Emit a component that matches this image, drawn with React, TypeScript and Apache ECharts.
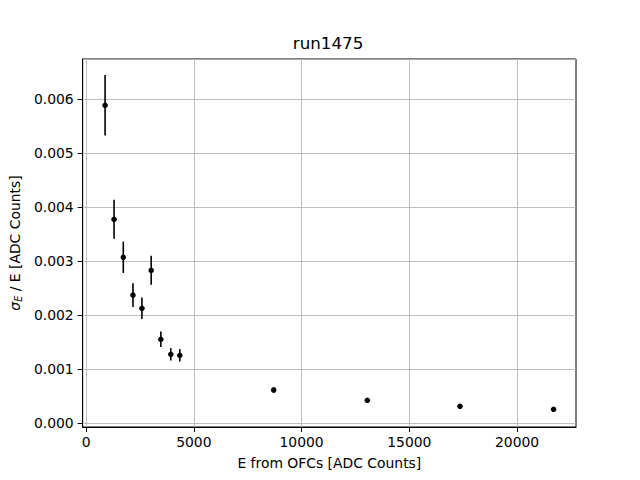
import React, { useEffect, useRef } from "react";
import * as echarts from "echarts";

const energies = [883, 1299, 1728, 2177, 2593, 3022, 3470, 3933, 4349, 8706, 13050, 17348, 21692];
const resolution = [0.005883, 0.003772, 0.003069, 0.00237, 0.002124, 0.002828, 0.00155, 0.001272, 0.001254, 0.000611, 0.00042, 0.000309, 0.000254];
const errors = [0.00056, 0.00036, 0.00029, 0.00022, 0.0002, 0.00027, 0.000145, 0.000114, 0.000115, 0.00005, 0.00003, 0.00002, 0.00002];
const xTicks = [0, 5000, 10000, 15000, 20000];
const titleText = "run1475";
const xName = "E from OFCs [ADC Counts]";

const FONT = "DejaVu Sans";

export default function App() {
  const ref = useRef<HTMLDivElement>(null);
  useEffect(() => {
    if (!ref.current) return;
    const chart = echarts.init(ref.current, null, { renderer: "svg" });
    const pts = energies.map((e, i) => [e, resolution[i], errors[i]]);
    chart.setOption({
      animation: false,
      backgroundColor: "#ffffff",
      title: {
        text: titleText,
        left: 328,
        top: 34,
        padding: 0,
        textAlign: "center",
        textStyle: { fontFamily: FONT, fontSize: 16.7, fontWeight: "normal", color: "#000" },
      },
      grid: {
        left: 81,
        top: 59,
        right: 64,
        bottom: 53,
        show: true,
        borderColor: "#000",
        borderWidth: 1,
        backgroundColor: "transparent",
        containLabel: false,
      },
      xAxis: {
        type: "value",
        min: -157,
        max: 22732,
        name: xName,
        nameLocation: "middle",
        nameGap: 29,
        nameTextStyle: { fontFamily: FONT, fontSize: 13.9, color: "#000" },
        axisLine: { show: true, onZero: false, lineStyle: { color: "#000", width: 1 } },
        axisTick: { show: true, length: 5, lineStyle: { color: "#000" }, customValues: xTicks },
        axisLabel: {
          fontFamily: FONT,
          fontSize: 13.9,
          color: "#000",
          margin: 8,
          customValues: xTicks,
          formatter: (v: number) => String(Math.round(v)),
        },
        splitLine: { show: true, lineStyle: { color: "#b0b0b0", width: 0.8 }, customValues: xTicks },
      },
      yAxis: {
        type: "value",
        min: -0.000074,
        max: 0.00674,
        splitNumber: 7,
        name: "{s|σ}{e|E} / E [ADC Counts]",
        nameLocation: "middle",
        nameGap: 57,
        nameRotate: 90,
        nameTextStyle: {
          fontFamily: FONT,
          fontSize: 13.9,
          color: "#000",
          rich: {
            s: { fontFamily: FONT, fontSize: 13.9, fontStyle: "italic", color: "#000" },
            e: { fontFamily: FONT, fontSize: 9.7, fontStyle: "italic", color: "#000", padding: [6, 0, 0, 0] },
          },
        },
        axisLine: { show: true, onZero: false, lineStyle: { color: "#000", width: 1 } },
        axisTick: { show: true, length: 5, lineStyle: { color: "#000" } },
        axisLabel: {
          fontFamily: FONT,
          fontSize: 13.9,
          color: "#000",
          margin: 9,
          showMinLabel: false,
          showMaxLabel: false,
          formatter: (v: number) => v.toFixed(3),
        },
        splitLine: { show: true, lineStyle: { color: "#b0b0b0", width: 0.8 } },
      },
      series: [
        {
          type: "custom",
          data: pts,
          z: 2,
          renderItem: (params: any, api: any) => {
            const x = api.value(0);
            const y = api.value(1);
            const e = api.value(2);
            const lo = api.coord([x, y - e]);
            const hi = api.coord([x, y + e]);
            return {
              type: "line",
              shape: { x1: lo[0], y1: lo[1], x2: hi[0], y2: hi[1] },
              style: { stroke: "#000", lineWidth: 1.6 },
            };
          },
        },
        {
          type: "scatter",
          data: pts.map((p) => [p[0], p[1]]),
          symbol: "circle",
          symbolSize: 5.5,
          itemStyle: { color: "#000", opacity: 1 },
          z: 3,
        },
      ],
    });
    return () => chart.dispose();
  }, []);
  return <div ref={ref} style={{ width: 640, height: 480, position: "absolute", left: 0, top: 0 }} />;
}
